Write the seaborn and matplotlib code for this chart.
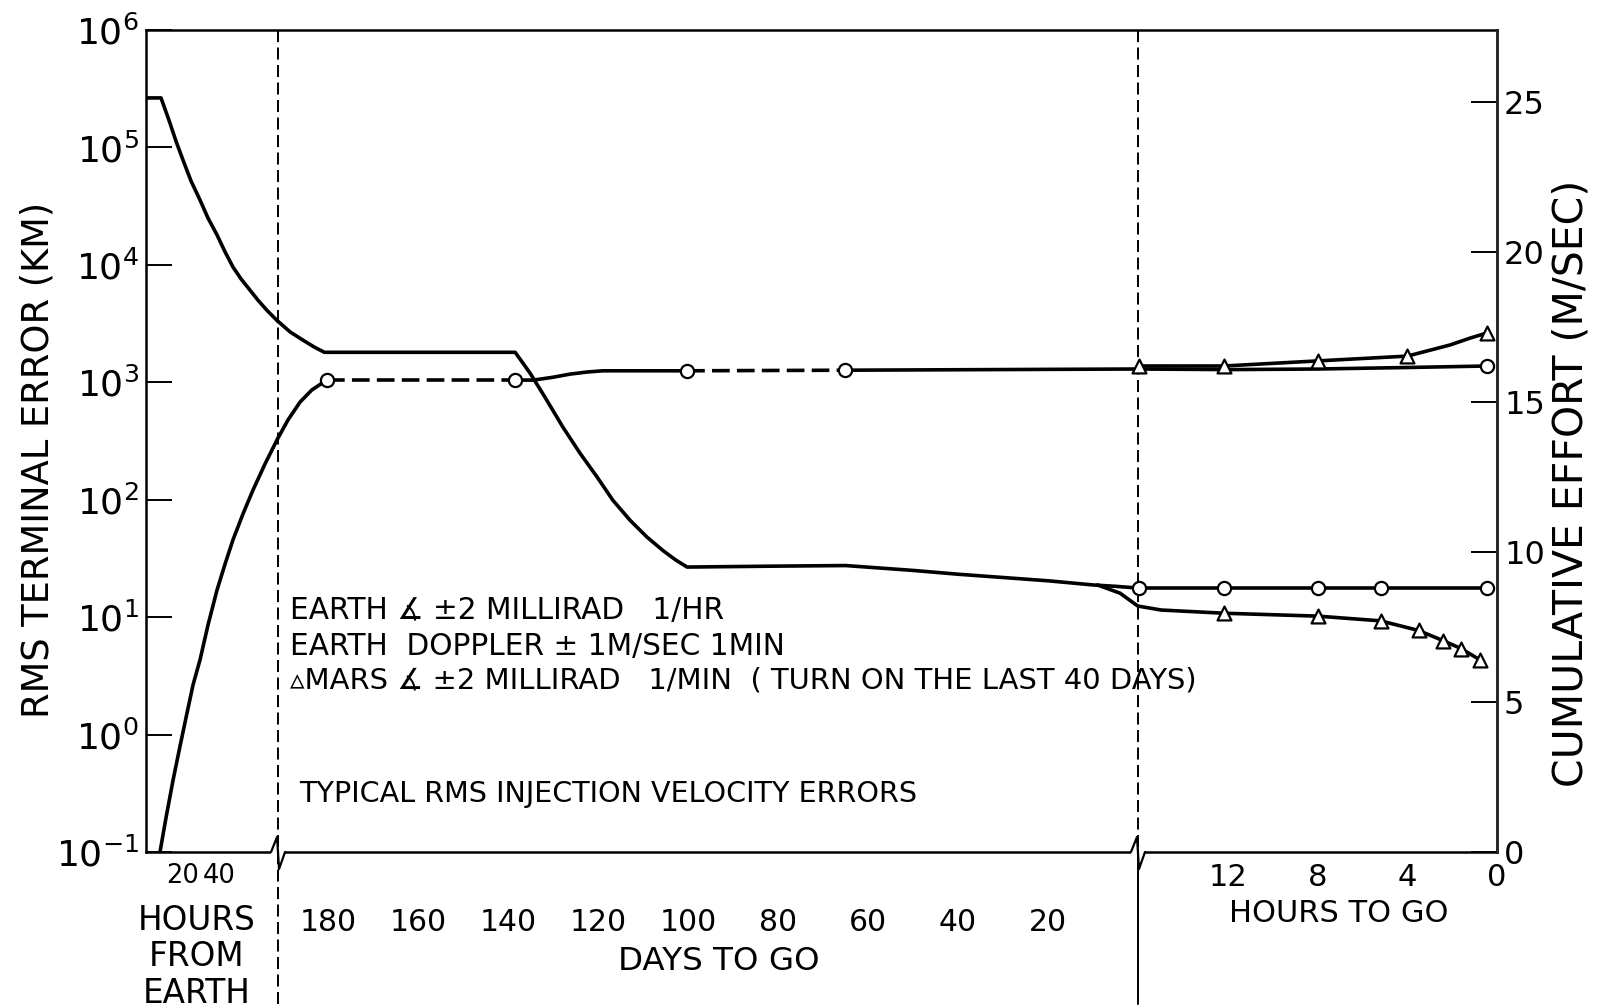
import numpy as np
import pandas as pd
import matplotlib
matplotlib.use("Agg")
import matplotlib.pyplot as plt
import matplotlib.transforms as mtransforms
from matplotlib.ticker import FixedLocator, FixedFormatter, NullLocator
import seaborn as sns

# ---------------- data ----------------
# tick values of the three pieces of the broken time axis
HFE_TICKS = [20, 40]                                   # hours from Earth
DAY_TICKS = [180, 160, 140, 120, 100, 80, 60, 40, 20]  # days to go
HTG_TICKS = [12, 8, 4, 0]                              # hours to go

# RMS terminal error (km)
err_hfe_hours = [0, 8.2, 10.4, 13.1, 16.4, 20.2, 24.6, 29.5, 33.9, 38.8, 43.2,
                 47.5, 51.9, 56.8, 61.2, 66.1, 72.1]
err_hfe_km = [2.64e5, 2.64e5, 2.12e5, 1.61e5, 1.13e5, 7.82e4, 5.18e4, 3.57e4, 2.5e4,
              1.8e4, 1.29e4, 9.6e3, 7.6e3, 6.1e3, 5.0e3, 4.1e3, 3.3e3]
err_days = [191.1, 188.4, 185.6, 183.1, 180.8, 138.4, 135.1, 131.8, 127.8, 124.0,
            120.2, 116.7, 112.9, 109.1, 105.6, 102.7, 100.2, 80, 65, 50, 40, 20,
            10, 5, 0]
err_days_km = [3.3e3, 2.68e3, 2290, 2.0e3, 1800, 1800, 1197, 748, 415, 249,
               156, 99, 67, 48, 37, 30.6, 26.7, 27.2, 27.5, 25, 23.2, 20.4,
               18.8, 18.3, 17.7]
err_earth_hours = [16, 12.2, 8, 5.2, 0.45]
err_earth_km = [17.7, 17.7, 17.7, 17.7, 17.7]
err_mars_days = [9, 4, 0]
err_mars_days_km = [18.8, 16.0, 12.4]
err_mars_hours = [16, 15.0, 12.2, 8, 5.2, 3.5, 2.4, 1.6, 0.74]
err_mars_km = [12.4, 11.5, 10.8, 10.2, 9.3, 7.7, 6.3, 5.4, 4.3]
err_mars_marker_hours = [12.2, 8, 5.2, 3.5, 2.4, 1.6, 0.74]
err_mars_marker_km = [10.8, 10.2, 9.3, 7.7, 6.3, 5.4, 4.3]

# cumulative effort (m/sec)
eff_hfe_hours = [7.65, 10.9, 14.8, 18.6, 22.4, 25.7, 29.5, 33.9, 38.8, 43.2,
                 47.5, 53.0, 58.5, 65.0, 72.1]
eff_hfe_ms = [0, 1.13, 2.4, 3.53, 4.63, 5.57, 6.4, 7.57, 8.73, 9.6,
              10.4, 11.27, 12.07, 12.93, 13.8]
eff_rise_days = [191.1, 188.9, 186.2, 183.6, 180.3]
eff_rise_ms = [13.8, 14.4, 15.0, 15.4, 15.73]
eff_coast1_days = [180.3, 138.4]
eff_coast1_ms = [15.73, 15.73]
eff_burn_days = [138.4, 134.4, 130.2, 126.2, 122.4, 118.9, 100.2]
eff_burn_ms = [15.73, 15.73, 15.82, 15.93, 16.0, 16.04, 16.04]
eff_coast2_days = [100.2, 65]
eff_coast2_ms = [16.04, 16.06]
eff_late_days = [65, 0]
eff_late_ms = [16.06, 16.1]
eff_earth_hours = [16, 12, 8, 4, 0.45]
eff_earth_ms = [16.1, 16.08, 16.1, 16.15, 16.2]
eff_mars_hours = [16, 12.2, 8, 4, 2.1, 1.2, 0.45]
eff_mars_ms = [16.2, 16.2, 16.37, 16.53, 16.9, 17.13, 17.3]
eff_mars_marker_hours = [16, 12.2, 8, 4, 0.45]
eff_mars_marker_ms = [16.2, 16.2, 16.37, 16.53, 17.3]
eff_circle_days = [180.3, 138.4, 100.2, 65]
eff_circle_days_ms = [15.73, 15.73, 16.04, 16.06]


# ---------------- broken time axis ----------------
def pos_hfe(h):
    return 1.83 * np.asarray(h, dtype=float)


def pos_days(d):
    return 542 + 4.5 * (100 - np.asarray(d, dtype=float))


def pos_htg(h):
    return 1351 - 22.4 * np.asarray(h, dtype=float)


X_MAX = 1351
BREAKS = [float(pos_days(191.1)), float(pos_days(0))]

# ---------------- style ----------------
sns.set_theme(style="white")
plt.rcParams["font.family"] = ["DejaVu Sans"]
plt.rcParams["mathtext.fontset"] = "custom"
plt.rcParams["mathtext.rm"] = "DejaVu Sans"
plt.rcParams["mathtext.it"] = "DejaVu Sans"
plt.rcParams["mathtext.bf"] = "DejaVu Sans"
plt.rcParams["axes.unicode_minus"] = True

W, H = 1603, 1008
fig = plt.figure(figsize=(W / 100, H / 100), dpi=100)
fig.patch.set_facecolor("white")
L, R, T, B = 146, 1497, 30, 852
ax = fig.add_axes([L / W, 1 - B / H, (R - L) / W, (B - T) / H])
ax2 = ax.twinx()

INK = "black"
LW = 2.6
DASH = (0, (4.9, 2.0))


def curve(axis, xs, ys, ls="-", lw=LW):
    df = pd.DataFrame({"x": xs, "y": ys})
    sns.lineplot(data=df, x="x", y="y", ax=axis, color=INK, lw=lw, ls=ls,
                 sort=False, estimator=None, legend=False, zorder=3)


def marks(axis, xs, ys, marker, size):
    df = pd.DataFrame({"x": xs, "y": ys})
    sns.scatterplot(data=df, x="x", y="y", ax=axis, marker=marker, s=size,
                    facecolor="white", edgecolor=INK, linewidth=1.6,
                    legend=False, zorder=5, clip_on=False)


# RMS terminal error on the log axis
curve(ax, pos_hfe(err_hfe_hours), err_hfe_km)
curve(ax, pos_days(err_days), err_days_km)
curve(ax, pos_htg(err_earth_hours), err_earth_km)
curve(ax, np.r_[pos_days(err_mars_days), pos_htg(err_mars_hours)],
      err_mars_days_km + err_mars_km)
marks(ax, pos_htg(err_earth_hours), err_earth_km, "o", 90)
marks(ax, pos_htg(err_mars_marker_hours), err_mars_marker_km, "^", 100)

# cumulative effort on the linear axis
curve(ax2, np.r_[pos_hfe(eff_hfe_hours), pos_days(eff_rise_days)], eff_hfe_ms + eff_rise_ms)
curve(ax2, pos_days(eff_coast1_days), eff_coast1_ms, ls=DASH)
curve(ax2, pos_days(eff_burn_days), eff_burn_ms)
curve(ax2, pos_days(eff_coast2_days), eff_coast2_ms, ls=DASH)
curve(ax2, pos_days(eff_late_days), eff_late_ms)
curve(ax2, pos_htg(eff_earth_hours), eff_earth_ms)
curve(ax2, pos_htg(eff_mars_hours), eff_mars_ms)
marks(ax2, pos_days(eff_circle_days), eff_circle_days_ms, "o", 90)
marks(ax2, pos_htg([eff_earth_hours[-1]]), [eff_earth_ms[-1]], "o", 90)
marks(ax2, pos_htg(eff_mars_marker_hours), eff_mars_marker_ms, "^", 100)

# ---------------- axes ----------------
ax.set_yscale("log")
ax.set_ylim(0.1, 1e6)
ax.set_xlim(0, X_MAX)
ax2.set_ylim(0, 27.4)
ax.set_xlabel("")
ax.set_ylabel("")
ax2.set_ylabel("")

dec = [-1, 0, 1, 2, 3, 4, 5, 6]
ax.yaxis.set_major_locator(FixedLocator([10.0 ** k for k in dec]))
ax.yaxis.set_major_formatter(FixedFormatter([r"$10^{%d}$" % k for k in dec]))
ax.yaxis.set_minor_locator(NullLocator())
ax.tick_params(axis="y", which="major", direction="in", length=19, width=1.4,
               labelsize=26, pad=5, colors=INK)

ax2.yaxis.set_major_locator(FixedLocator([0, 5, 10, 15, 20, 25]))
ax2.yaxis.set_major_formatter(FixedFormatter(["0", "5", "10", "15", "20", "25"]))
ax2.tick_params(axis="y", direction="in", length=19, width=1.4, labelsize=23, pad=5,
                colors=INK)

major_pos = list(pos_hfe(HFE_TICKS)) + list(pos_htg(HTG_TICKS))
major_lab = [str(v) for v in HFE_TICKS] + [str(v) for v in HTG_TICKS]
ax.xaxis.set_major_locator(FixedLocator(major_pos))
ax.xaxis.set_major_formatter(FixedFormatter(major_lab))
ax.xaxis.set_minor_locator(FixedLocator(list(pos_days(DAY_TICKS))))
ax.xaxis.set_minor_formatter(FixedFormatter([str(d) for d in DAY_TICKS]))
ax.tick_params(axis="x", which="major", direction="in", length=19, width=1.3,
               pad=8, labelsize=22, colors=INK)
ax.tick_params(axis="x", which="minor", direction="inout", length=48, width=1.3,
               pad=16, labelsize=21.5, colors=INK)
# the two launch-phase hour labels sit close together
fig.canvas.draw()
for lab in ax.xaxis.get_majorticklabels()[:len(HFE_TICKS)]:
    lab.set_fontsize(18.5)

for s in ax.spines.values():
    s.set_linewidth(1.8)
    s.set_color(INK)
for name in ["left", "top", "bottom"]:
    ax2.spines[name].set_visible(False)
ax2.spines["right"].set_linewidth(1.8)
ax.grid(False)
ax2.grid(False)

# phase separators and axis breaks
tr = mtransforms.blended_transform_factory(ax.transData, ax.transAxes)
dy = 1 / (B - T)
for i, xb in enumerate(BREAKS):
    ax.plot([xb, xb], [1, 0], transform=tr, color=INK, lw=1.4,
            ls=(0, (6.2, 2.8)), clip_on=False, zorder=2)
    ax.plot([xb, xb], [0, -152 * dy], transform=tr, color=INK, lw=1.4,
            ls=(0, (6.2, 2.8)) if i == 0 else "-", clip_on=False, zorder=2)
    ax.plot([xb - 7, xb + 7], [0, 0], transform=tr, color="white", lw=4,
            clip_on=False, zorder=6, solid_capstyle="butt")
    ax.plot([xb - 7, xb - 1, xb + 1, xb + 7], [0, 15 * dy, -17 * dy, 0], transform=tr,
            color=INK, lw=1.6, clip_on=False, zorder=7)

# ---------------- text ----------------
FS = 21


def ftext(x, y, s, **kw):
    fig.text(x / W, 1 - y / H, s, color=INK, fontsize=kw.pop("fontsize", FS), **kw)


ftext(38, 460, "RMS TERMINAL ERROR (KM)", rotation=90, ha="center", va="center",
      fontsize=26.5)
ftext(1572, 483, "CUMULATIVE EFFORT (M/SEC)", rotation=90, ha="center", va="center",
      fontsize=29.5)
ftext(197, 957, "HOURS\nFROM\nEARTH", ha="center", va="center", linespacing=1.12,
      fontsize=23.5)
ftext(719, 961, "DAYS TO GO", ha="center", va="center", fontsize=23.4)
ftext(1339, 914, "HOURS TO GO", ha="center", va="center", fontsize=22)

ftext(290, 611, "EARTH \u2221 \u00b12 MILLIRAD   1/HR", ha="left", va="center",
      fontsize=21.3)
ftext(290, 646, "EARTH  DOPPLER \u00b1 1M/SEC 1MIN", ha="left", va="center",
      fontsize=21.3)
ftext(290, 680, "\u25b5MARS \u2221 \u00b12 MILLIRAD   1/MIN  ( TURN ON THE LAST 40 DAYS)",
      ha="left", va="center", fontsize=20.9)
ftext(299, 794, "TYPICAL RMS INJECTION VELOCITY ERRORS", ha="left", va="center",
      fontsize=20.6)

fig.savefig("out.png", dpi=100, facecolor="white")
